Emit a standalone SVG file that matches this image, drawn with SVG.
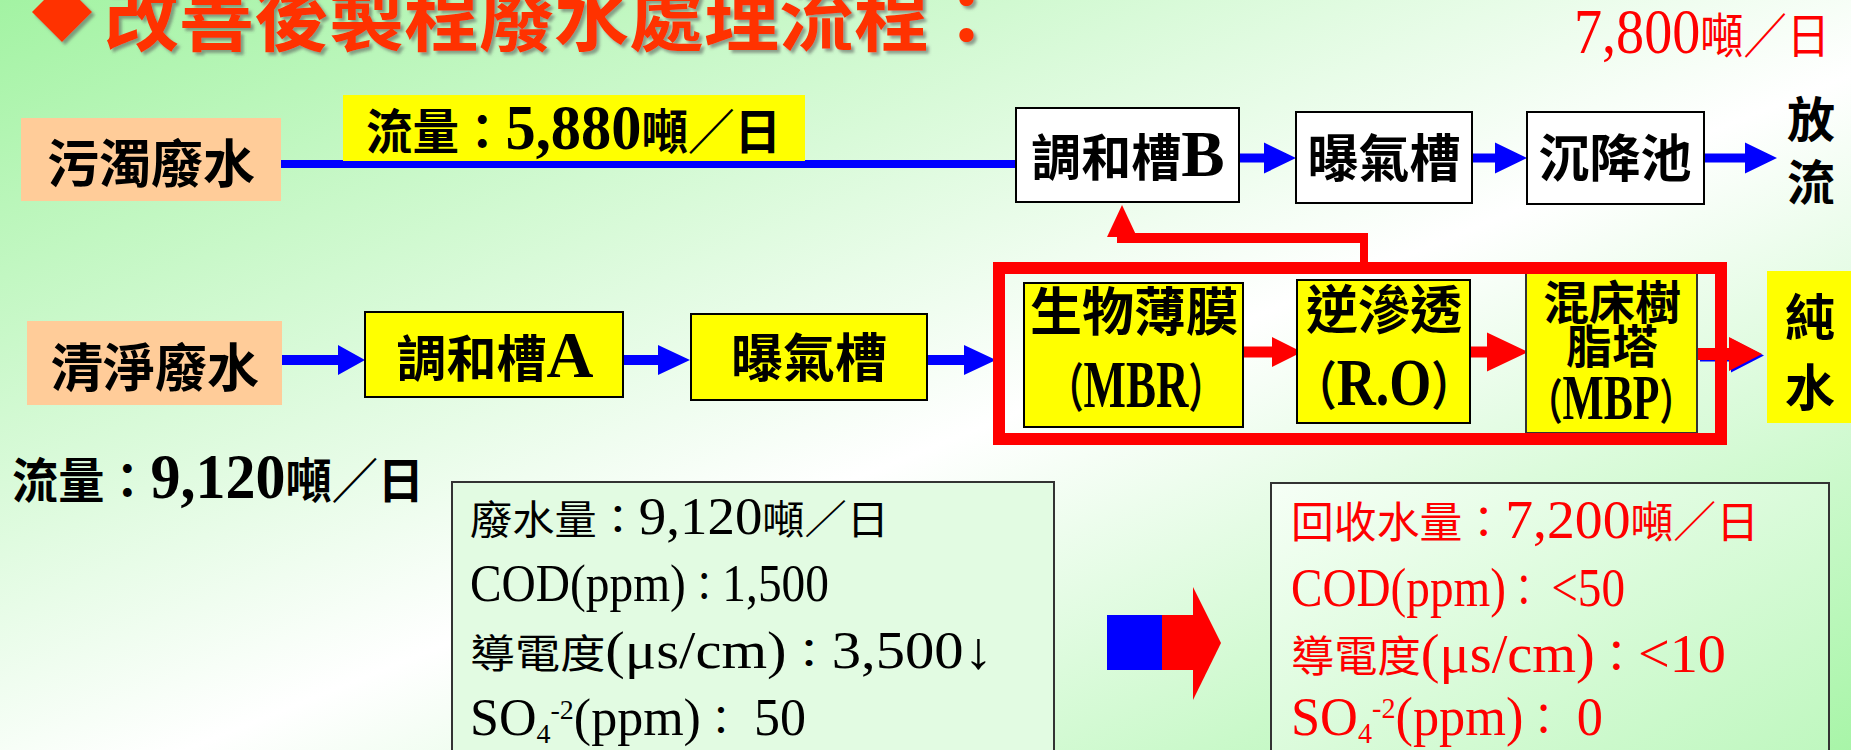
<svg xmlns="http://www.w3.org/2000/svg" width="1851" height="750" viewBox="0 0 1851 750">
<defs>
<linearGradient id="bg" x1="0" y1="0" x2="1" y2="1">
<stop offset="0" stop-color="#A3F3A3"/>
<stop offset="0.55" stop-color="#FFFFFF"/>
<stop offset="1" stop-color="#A8F5A8"/>
</linearGradient>
<linearGradient id="gbox" x1="0" y1="0" x2="1" y2="1">
<stop offset="0" stop-color="#F6FFF6"/>
<stop offset="1" stop-color="#BDF7BD"/>
</linearGradient>
<filter id="sh" x="-5%" y="-20%" width="110%" height="150%">
<feDropShadow dx="3" dy="3" stdDeviation="1.5" flood-color="#555" flood-opacity="0.55"/>
</filter>
<style>
text{font-family:'Liberation Serif','Noto Sans CJK TC','Noto Sans CJK JP',serif;}
.lbl{font-weight:bold;fill:#000;}
.mid{text-anchor:middle;}
.L{font-size:1.3em;}
.s{font-size:0.7em;}
.box{stroke:#000;stroke-width:2;}
.y{fill:#FFFF00;}
.w{fill:#FFFFFF;}
.pe{fill:#FFCC99;}
.red{fill:#FF0000;}
.blue{fill:#0000FF;}
.info{fill:#000;font-weight:normal;}
.rinfo{fill:#FF0000;font-weight:normal;}
</style>
</defs>

<rect x="0" y="0" width="1851" height="750" fill="url(#bg)"/>

<g id="title" filter="url(#sh)">
<polygon points="62,-18 92,12 62,42 32,12" fill="#FF3300"/>
<text x="104" y="45" font-size="75" font-weight="bold" fill="#FF3300">改善後製程廢水處理流程：</text>
</g>

<g id="total-flow">
<text x="1574" y="53" font-size="48" fill="#FF0000" textLength="256" lengthAdjust="spacingAndGlyphs"><tspan class="L">7,800</tspan>噸／日</text>
</g>

<g id="connectors">
<rect x="281" y="160" width="735" height="8" class="blue"/>
<path class="blue" d="M1239,153.5 H1264 V142.5 L1296,158 L1264,173.5 V162.5 H1239 Z"/>
<path class="blue" d="M1472,153.5 H1495 V142.5 L1527,158 L1495,173.5 V162.5 H1472 Z"/>
<path class="blue" d="M1704,153.5 H1745 V142.5 L1777,158 L1745,173.5 V162.5 H1704 Z"/>
<path class="blue" d="M282,355 H338 V345 L365,360 L338,375 V365 H282 Z"/>
<path class="blue" d="M623,355 H658 V345 L690,360 L658,375 V365 H623 Z"/>
<path class="blue" d="M927,355 H964 V345 L996,360 L964,375 V365 H927 Z"/>
<path class="red" d="M1243,346.5 H1272 V337 L1302,352 L1272,367 V357.5 H1243 Z"/>
<path class="red" d="M1470,346.5 H1487 V332.5 L1528,352 L1487,371.5 V357.5 H1470 Z"/>
<path class="blue" d="M1700,349.5 H1731 V338.5 L1764,355.5 L1731,372.5 V361.5 H1700 Z"/>
<path class="red" d="M1698,348 H1729 V337 L1762,354 L1729,371 V360 H1698 Z"/>
<path class="red" d="M1117,233 H1368 V265 H1360 V243 H1117 Z"/>
<polygon class="red" points="1107,237 1122,205 1137,237"/>
</g>

<g id="n-wuzhuo">
<rect x="21" y="118" width="260" height="83" class="pe"/>
<text x="151" y="183" font-size="52" class="lbl mid">污濁廢水</text>
</g>

<g id="flow-5880">
<rect x="343" y="95" width="462" height="66" class="y"/>
<text x="366" y="149" font-size="48" class="lbl" textLength="415" lengthAdjust="spacingAndGlyphs">流量：<tspan class="L">5,880</tspan>噸／日</text>
</g>

<g id="n-tiaoheB">
<rect x="1016" y="108" width="223" height="94" class="box w"/>
<text x="1128" y="176" font-size="50" class="lbl mid">調和槽<tspan class="L">B</tspan></text>
</g>

<g id="n-puqi1">
<rect x="1296" y="112" width="176" height="91" class="box w"/>
<text x="1384" y="177" font-size="51" class="lbl mid">曝氣槽</text>
</g>

<g id="n-chenjiang">
<rect x="1527" y="112" width="177" height="92" class="box w"/>
<text x="1615" y="177" font-size="51" class="lbl mid">沉降池</text>
</g>

<g id="n-fangliu">
<text x="1811" y="137" font-size="48" class="lbl mid">放</text>
<text x="1811" y="200" font-size="48" class="lbl mid">流</text>
</g>

<g id="n-qingjing">
<rect x="27" y="321" width="255" height="84" class="pe"/>
<text x="155" y="387" font-size="52" class="lbl mid">清淨廢水</text>
</g>

<g id="n-tiaoheA">
<rect x="365" y="312" width="258" height="85" class="box y"/>
<text x="495" y="377" font-size="50" class="lbl mid">調和槽<tspan class="L">A</tspan></text>
</g>

<g id="n-puqi2">
<rect x="691" y="314" width="236" height="86" class="box y"/>
<text x="809" y="377" font-size="52" class="lbl mid">曝氣槽</text>
</g>

<g id="n-mbr">
<rect x="1024" y="283" width="219" height="144" class="box y"/>
<text x="1134" y="331" font-size="52" class="lbl mid">生物薄膜</text>
<text x="1049" y="407" font-size="52" class="lbl" textLength="174" lengthAdjust="spacingAndGlyphs">（<tspan class="L">MBR</tspan>）</text>
</g>

<g id="n-ro">
<rect x="1297" y="280" width="173" height="143" class="box y"/>
<text x="1384" y="329" font-size="52" class="lbl mid">逆滲透</text>
<text x="1295" y="405" font-size="52" class="lbl" textLength="178" lengthAdjust="spacingAndGlyphs">（<tspan class="L">R.O</tspan>）</text>
</g>

<g id="n-mbp">
<rect x="1526" y="273" width="171" height="160" fill="#FFFF00" stroke="#333" stroke-width="2"/>
<text x="1612" y="319" font-size="46" class="lbl mid">混床樹</text>
<text x="1612" y="363" font-size="46" class="lbl mid">脂塔</text>
<text x="1529" y="419" font-size="48" class="lbl" textLength="164" lengthAdjust="spacingAndGlyphs">（<tspan class="L">MBP</tspan>）</text>
</g>

<g id="frame">
<rect x="999" y="268" width="722" height="171" fill="none" stroke="#FF0000" stroke-width="12"/>
</g>

<g id="n-chunshui">
<rect x="1767" y="271" width="90" height="152" class="y"/>
<text x="1810" y="336" font-size="50" class="lbl mid">純</text>
<text x="1810" y="406" font-size="50" class="lbl mid">水</text>
</g>

<g id="flow-9120">
<text x="12" y="498" font-size="48" class="lbl" textLength="412" lengthAdjust="spacingAndGlyphs">流量：<tspan class="L">9,120</tspan>噸／日</text>
</g>

<g id="info-before">
<rect x="452" y="482" width="602" height="290" fill="#E2FBE2" stroke="#333" stroke-width="2"/>
<text x="470" y="534" font-size="40" class="info" textLength="419" lengthAdjust="spacingAndGlyphs">廢水量：<tspan class="L">9,120</tspan>噸／日</text>
<text x="470" y="601" font-size="40" class="info" textLength="359" lengthAdjust="spacingAndGlyphs"><tspan class="L">COD(ppm)</tspan>：<tspan class="L">1,500</tspan></text>
<text x="470" y="668" font-size="40" class="info" textLength="523" lengthAdjust="spacingAndGlyphs">導電度<tspan class="L">(μs/cm)</tspan>：<tspan class="L">3,500↓</tspan></text>
<text x="470" y="735" font-size="40" class="info" textLength="336" lengthAdjust="spacingAndGlyphs"><tspan class="L">SO</tspan><tspan class="s" dy="8">4</tspan><tspan class="s" dy="-24">-2</tspan><tspan class="L" dy="16">(ppm)</tspan>：<tspan class="L"> 50</tspan></text>
</g>

<g id="convert-arrow">
<rect x="1107" y="615" width="56" height="55" class="blue"/>
<rect x="1162" y="615" width="32" height="55" class="red"/>
<polygon class="red" points="1193,587 1221,643 1193,700"/>
</g>

<g id="info-after">
<rect x="1271" y="483" width="558" height="290" fill="url(#gbox)" stroke="#333" stroke-width="2"/>
<text x="1291" y="538" font-size="43" class="rinfo" textLength="468" lengthAdjust="spacingAndGlyphs">回收水量：<tspan class="L">7,200</tspan>噸／日</text>
<text x="1291" y="606" font-size="43" class="rinfo" textLength="334" lengthAdjust="spacingAndGlyphs"><tspan class="L">COD(ppm)</tspan>： <tspan class="L">&lt;50</tspan></text>
<text x="1291" y="672" font-size="43" class="rinfo" textLength="435" lengthAdjust="spacingAndGlyphs">導電度<tspan class="L">(μs/cm)</tspan>：<tspan class="L">&lt;10</tspan></text>
<text x="1291" y="735" font-size="43" class="rinfo" textLength="312" lengthAdjust="spacingAndGlyphs"><tspan class="L">SO</tspan><tspan class="s" dy="8">4</tspan><tspan class="s" dy="-25">-2</tspan><tspan class="L" dy="17">(ppm)</tspan>：<tspan class="L"> 0</tspan></text>
</g>
</svg>
